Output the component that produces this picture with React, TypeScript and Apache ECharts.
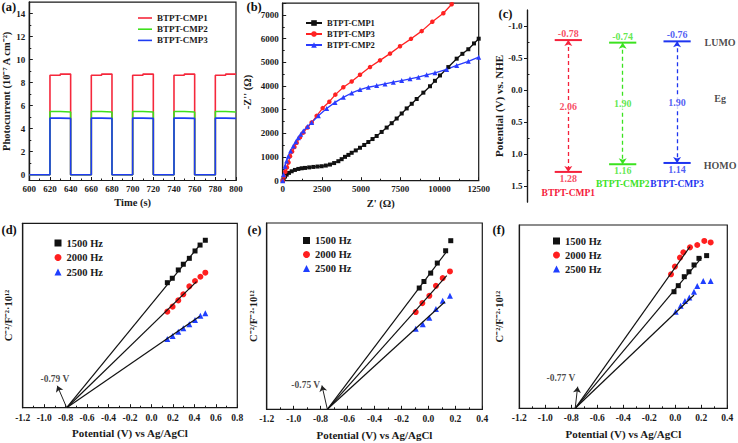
import React, { useEffect, useRef } from 'react';
import * as echarts from 'echarts';

const FONT = '"Liberation Serif", "Times New Roman", serif';
const AX = '#1a1a1a';

// ---------- (a) photocurrent ----------
const compoundsA = ['BTPT-CMP1', 'BTPT-CMP2', 'BTPT-CMP3'];
const lightOnStarts = [620, 660, 700, 740, 780];
const lightOnLength = 20;
const photoFirstHalf = [8.65, 5.5, 4.92];
const photoSecondHalf = [8.75, 5.45, 4.9];
const photoColors = ['#f5283c', '#3ee01c', '#1e3cf2'];
const photoLabelValues = [0, 2, 4, 6, 8, 10, 12, 14];
const photoMinorValues = [1, 3, 5, 7, 9, 11, 13];

// ---------- (b) Nyquist ----------
const eisCMP1 = [[0, 0], [60, 95], [150, 175], [253, 256], [400, 330], [572, 398], [780, 455], [997, 497], [1210, 525], [1422, 540], [1690, 562], [1954, 582], [2220, 598], [2485, 611], [2750, 640], [3017, 682], [3280, 745], [3548, 824], [3760, 910], [3974, 1008], [4190, 1090], [4399, 1179], [4660, 1280], [4930, 1392], [5200, 1510], [5462, 1634], [5730, 1760], [5993, 1889], [6310, 2060], [6631, 2244], [6950, 2430], [7269, 2627], [7590, 2840], [7907, 3054], [8230, 3250], [8545, 3451], [8970, 3720], [9395, 3991], [9710, 4220], [10033, 4446], [10564, 4801], [11096, 5156], [11460, 5360], [11839, 5554], [12200, 5800], [12500, 6000]];
const eisCMP3 = [[0, 0], [80, 180], [170, 380], [270, 560], [370, 770], [466, 1036], [600, 1230], [750, 1420], [891, 1605], [1100, 1830], [1316, 2031], [1580, 2250], [1848, 2457], [2166, 2741], [2549, 3068], [2974, 3338], [3357, 3636], [3867, 3949], [4399, 4190], [4930, 4474], [5568, 4801], [6206, 5085], [6844, 5369], [7481, 5682], [8183, 5994], [8863, 6320], [9543, 6718], [10245, 7073], [10777, 7457], [11000, 7640]];
const eisCMP2 = [[0, 0], [50, 250], [147, 611], [250, 830], [359, 1036], [500, 1250], [678, 1463], [840, 1650], [997, 1818], [1150, 1960], [1316, 2102], [1580, 2290], [1848, 2457], [2273, 2741], [2804, 3054], [3336, 3309], [3867, 3522], [4399, 3707], [4930, 3849], [5462, 3949], [5993, 4020], [6525, 4091], [7056, 4162], [7588, 4233], [8119, 4304], [8651, 4375], [9182, 4474], [9714, 4559], [10458, 4701], [11096, 4872], [11839, 5042], [12500, 5220]];

// ---------- (c) band positions ----------
const compoundsC = ['BTPT-CMP1', 'BTPT-CMP2', 'BTPT-CMP3'];
const lumo = [-0.78, -0.74, -0.76];
const homo = [1.28, 1.16, 1.14];
const bandColors = ['#f5213b', '#3be21f', '#1f35f0'];
const potentialLabelValues = [-1.0, -0.5, 0.0, 0.5, 1.0, 1.5];
const potentialMinorValues = [-0.75, -0.25, 0.25, 0.75, 1.25];

// ---------- (d)(e)(f) Mott-Schottky ----------
const freqs = ['1500 Hz', '2000 Hz', '2500 Hz'];
const flatBand = [-0.79, -0.75, -0.77];
const d1500 = [[0.148, 67.8], [0.194, 70.2], [0.25, 74.7], [0.297, 77.8], [0.353, 81.0], [0.406, 85.0], [0.453, 88.2], [0.502, 90.8]];
const d2000 = [[0.148, 52.1], [0.197, 54.8], [0.25, 58.2], [0.297, 61.5], [0.353, 65.8], [0.406, 68.7], [0.456, 71.0], [0.502, 73.2]];
const d2500 = [[0.148, 37.3], [0.197, 38.9], [0.25, 41.2], [0.297, 43.1], [0.353, 45.2], [0.406, 47.6], [0.456, 49.9], [0.502, 51.2]];
const dFitEnds = [[0.44, 87.5], [0.42, 68.4], [0.45, 49.6]];
const e1500 = [[-0.068, 65.1], [-0.033, 68.6], [0.017, 73.1], [0.066, 78.5], [0.128, 85.1], [0.166, 90.5]];
const e2000 = [[-0.094, 52.2], [-0.045, 57.0], [0.007, 60.9], [0.056, 66.3], [0.106, 70.4], [0.16, 74.0]];
const e2500 = [[-0.094, 43.2], [-0.042, 45.7], [0.007, 49.2], [0.056, 53.9], [0.106, 58.2], [0.16, 60.9]];
const eFitEnds = [[0.128, 84.0], [0.136, 71.8], [0.123, 57.7]];
const f1500 = [[-0.01, 63.6], [0.023, 66.9], [0.069, 71.8], [0.105, 74.5], [0.144, 78.2], [0.182, 81.8], [0.241, 83.3]];
const f2000 = [[-0.033, 73.1], [-0.003, 77.3], [0.036, 82.2], [0.062, 85.1], [0.113, 87.8], [0.169, 89.1], [0.223, 91.3], [0.272, 90.5]];
const f2500 = [[0.003, 52.7], [0.041, 56.0], [0.074, 58.5], [0.108, 60.4], [0.144, 63.6], [0.169, 66.7], [0.215, 69.5], [0.272, 69.5]];
const fFitEnds = [[0.203, 82.2], [0.113, 88.2], [0.144, 61.8]];
const msColors = ['#111111', '#ff1f1f', '#1f3fff'];
const msSymbols = ['rect', 'circle', 'triangle'];
const msSymbolSizes = [5, 6, 6];

const txt = (size: number, extra: any = {}) => ({ fontFamily: FONT, fontWeight: 'bold', fontSize: size, color: AX, ...extra });

function stepData(a: number, b: number) {
  const pts: number[][] = [[600, 0]];
  lightOnStarts.forEach((s) => {
    const e = s + lightOnLength;
    const m = s + lightOnLength / 2;
    pts.push([s, 0], [s, a], [m, a], [m, b], [e, b]);
    if (e < 800) pts.push([e, 0]);
  });
  return pts;
}

function baseAxis(gridIndex: number, extra: any = {}) {
  return {
    gridIndex,
    type: 'value',
    axisLine: { show: true, onZero: false, lineStyle: { color: AX, width: 1.2 } },
    axisTick: { show: true, inside: true, length: 3.5, lineStyle: { color: AX, width: 1 } },
    minorTick: { show: false },
    axisLabel: txt(9, { margin: 4, formatter: (v: number) => String(v) }),
    splitLine: { show: false },
    nameTextStyle: txt(10.5),
    ...extra,
  };
}

export default function App() {
  const ref = useRef<HTMLDivElement>(null);
  useEffect(() => {
    if (!ref.current) return;
    const chart = echarts.init(ref.current, null, { renderer: 'svg' });

    const gridBox = { show: true, borderColor: AX, borderWidth: 1.2, backgroundColor: 'transparent' };
    const grids = [
      { left: 29.3, top: 2.2, width: 206.7, height: 178.3, ...gridBox },
      { left: 282.7, top: 3.2, width: 196, height: 177.5, ...gridBox },
      { left: 527.5, top: 10, width: 206.7, height: 192, show: true, borderWidth: 0, borderColor: 'rgba(0,0,0,0)', backgroundColor: 'transparent' },
      { left: 22.7, top: 223.3, width: 214.6, height: 184.4, ...gridBox },
      { left: 266.7, top: 223, width: 215.6, height: 186.3, ...gridBox },
      { left: 519.3, top: 225, width: 208, height: 183.3, ...gridBox },
    ];

    const msX = (gi: number, max: number) => baseAxis(gi, {
      min: -1.2, max, interval: 0.2,
      minorTick: { show: true, splitNumber: 2, length: 2, lineStyle: { color: AX } },
      axisLabel: txt(9.5, { margin: 5, formatter: (v: number) => v.toFixed(1) }),
      name: 'Potential (V) vs Ag/AgCl', nameLocation: 'middle', nameGap: 20, nameTextStyle: txt(11),
    });
    const msY = (gi: number, gap: number) => baseAxis(gi, {
      min: 0, max: 100, axisTick: { show: false }, axisLabel: { show: false },
      name: 'C\u207B\u00B2/F\u207B\u00B2\u00B710\u00B9\u00B2', nameLocation: 'middle', nameGap: gap, nameTextStyle: txt(10.5),
    });

    // panel (c): horizontal layout axis 0..3.8, compounds at 0.75, 1.75, 2.75
    const cMin = 0;
    const cMax = 3.8;
    const centers = compoundsC.map((_, i) => 0.75 + i);
    const sideX = 3.54;
    const halfW = 0.25;
    const nameRich: any = {};
    compoundsC.forEach((_, i) => {
      nameRich['c' + i] = txt(9.5, { color: bandColors[i], padding: [i === 0 ? 9 : 0, 0, 0, 0] });
    });

    const xAxis = [
      baseAxis(0, {
        min: 600, max: 800, interval: 20,
        minorTick: { show: true, splitNumber: 2, length: 2, lineStyle: { color: AX } },
        name: 'Time (s)', nameLocation: 'middle', nameGap: 16, nameTextStyle: txt(10.5),
      }),
      baseAxis(1, {
        min: 0, max: 12500, interval: 2500,
        minorTick: { show: true, splitNumber: 2, length: 2, lineStyle: { color: AX } },
        name: "Z' (\u03A9)", nameLocation: 'middle', nameGap: 17, nameTextStyle: txt(10.5),
      }),
      baseAxis(2, {
        min: cMin, max: cMax,
        axisLine: { show: true, onZero: false, lineStyle: { color: 'rgba(0,0,0,0)', width: 1 } },
        axisTick: { show: false },
        axisLabel: txt(9.5, {
          margin: -23.5,
          customValues: centers,
          formatter: (v: number) => {
            const i = centers.findIndex((c) => Math.abs(c - v) < 1e-6);
            return i < 0 ? '' : `{c${i}|${compoundsC[i]}}`;
          },
          rich: nameRich,
        }),
      }),
      msX(3, 0.8),
      msX(4, 0.4),
      msX(5, 0.4),
    ];

    const yAxis = [
      baseAxis(0, {
        min: -0.5, max: 15,
        axisLabel: txt(9, { margin: 4, customValues: photoLabelValues, formatter: (v: number) => String(v) }),
        axisTick: { show: true, inside: true, length: 3.5, customValues: photoLabelValues, lineStyle: { color: AX } },
        name: 'Photocurrent (10\u207B\u2077 A cm\u207B\u00B2)', nameLocation: 'middle', nameGap: 15, nameTextStyle: txt(10.5),
      }),
      baseAxis(0, {
        min: -0.5, max: 15, position: 'left',
        axisLine: { show: true, onZero: false, lineStyle: { color: AX, width: 1.2 } },
        axisLabel: { show: false },
        axisTick: { show: true, inside: true, length: 2, customValues: photoMinorValues, lineStyle: { color: AX } },
      }),
      baseAxis(1, {
        min: 0, max: 7500, interval: 1000,
        minorTick: { show: true, splitNumber: 2, length: 2, lineStyle: { color: AX } },
        axisLabel: txt(9, { margin: 4, showMaxLabel: false, formatter: (v: number) => String(v) }),
        name: "-Z'' (\u03A9)", nameLocation: 'middle', nameGap: 30, nameTextStyle: txt(10.5),
      }),
      baseAxis(2, {
        min: -1.25, max: 1.75, inverse: true,
        axisLabel: txt(9, { margin: 5, customValues: potentialLabelValues, formatter: (v: number) => v.toFixed(1) }),
        axisTick: { show: true, inside: false, length: 3.5, customValues: potentialLabelValues, lineStyle: { color: AX } },
        name: 'Potential (V) vs. NHE', nameLocation: 'middle', nameGap: 20, nameTextStyle: txt(11),
      }),
      baseAxis(2, {
        min: -1.25, max: 1.75, inverse: true, position: 'left',
        axisLine: { show: true, onZero: false, lineStyle: { color: AX, width: 1.2 } },
        axisLabel: { show: false },
        axisTick: { show: true, inside: true, length: 2, customValues: potentialMinorValues, lineStyle: { color: AX } },
      }),
      msY(3, 9),
      msY(4, 8),
      msY(5, 14),
    ];

    const series: any[] = [];

    // (a)
    compoundsA.forEach((n, i) => {
      series.push({
        name: 'a:' + n, type: 'line', xAxisIndex: 0, yAxisIndex: 0,
        data: stepData(photoFirstHalf[i], photoSecondHalf[i]),
        symbol: 'none', color: photoColors[i], lineStyle: { width: 1.6, color: photoColors[i] },
      });
    });

    // (b)
    const eisSets = [
      { n: 'BTPT-CMP1', d: eisCMP1, c: '#111111', s: 'rect', z: 4 },
      { n: 'BTPT-CMP3', d: eisCMP3, c: '#ff2222', s: 'circle', z: 4.5 },
      { n: 'BTPT-CMP2', d: eisCMP2, c: '#2a3cff', s: 'triangle', z: 5 },
    ];
    eisSets.forEach((e) => {
      series.push({
        name: 'b:' + e.n, type: 'line', xAxisIndex: 1, yAxisIndex: 2, data: e.d,
        symbol: e.s, symbolSize: e.z, showSymbol: true, color: e.c,
        lineStyle: { width: 1.3, color: e.c }, itemStyle: { color: e.c },
      });
    });

    // (c)
    compoundsC.forEach((n, i) => {
      const c = bandColors[i];
      series.push({
        name: 'c:lumo' + i, type: 'line', xAxisIndex: 2, yAxisIndex: 3,
        data: [[centers[i] - halfW, lumo[i]], [centers[i] + halfW, lumo[i]]],
        symbol: 'none', lineStyle: { color: c, width: 2 },
        markLine: {
          silent: true, symbol: ['arrow', 'arrow'], symbolSize: 6,
          label: { show: false },
          lineStyle: { color: c, width: 1.3, type: [4, 3] },
          data: [[{ coord: [centers[i], lumo[i]] }, { coord: [centers[i], homo[i]] }]],
        },
      });
      series.push({
        name: 'c:homo' + i, type: 'line', xAxisIndex: 2, yAxisIndex: 3,
        data: [[centers[i] - halfW, homo[i]], [centers[i] + halfW, homo[i]]],
        symbol: 'none', lineStyle: { color: c, width: 2 },
      });
    });
    const cLabels: any[] = [];
    compoundsC.forEach((n, i) => {
      const c = bandColors[i];
      cLabels.push({ value: [centers[i], lumo[i]], label: { position: 'top', distance: 1, formatter: lumo[i].toFixed(2), ...txt(10, { color: c }) } });
      cLabels.push({ value: [centers[i], homo[i]], label: { position: 'bottom', distance: 1, formatter: homo[i].toFixed(2), ...txt(10, { color: c }) } });
      cLabels.push({
        value: [centers[i], (lumo[i] + homo[i]) / 2],
        label: { position: 'inside', formatter: (homo[i] - lumo[i]).toFixed(2), backgroundColor: '#fff', padding: [1, 0], ...txt(10, { color: c }) },
      });
    });
    cLabels.push({ value: [sideX, -0.75], label: { position: 'inside', formatter: 'LUMO', ...txt(10) } });
    cLabels.push({ value: [sideX, 0.14], label: { position: 'inside', formatter: 'Eg', ...txt(10) } });
    cLabels.push({ value: [sideX, 1.18], label: { position: 'inside', formatter: 'HOMO', ...txt(10) } });
    // invisible extent anchors so the layout axis spans its full range
    cLabels.push({ value: [cMin, 1.75], label: { show: false } });
    cLabels.push({ value: [cMax, 1.75], label: { show: false } });
    series.push({
      name: 'c:labels', type: 'scatter', xAxisIndex: 2, yAxisIndex: 3, symbolSize: 1,
      itemStyle: { color: 'rgba(0,0,0,0)' }, label: { show: true }, data: cLabels, z: 5,
    });

    // (d)(e)(f)
    const msPanels = [
      { p: 'd', sets: [d1500, d2000, d2500], fits: dFitEnds, xi: 3, yi: 5, vfb: flatBand[0], text: [-0.90, 15.6], head: [-0.878, 11.9] },
      { p: 'e', sets: [e1500, e2000, e2500], fits: eFitEnds, xi: 4, yi: 6, vfb: flatBand[1], text: [-0.91, 13.0], head: [-0.79, 12.8] },
      { p: 'f', sets: [f1500, f2000, f2500], fits: fFitEnds, xi: 5, yi: 7, vfb: flatBand[2], text: [-0.88, 16.4], head: [-0.751, 11.8] },
    ];
    msPanels.forEach((m) => {
      m.sets.forEach((d, k) => {
        series.push({
          name: m.p + ':' + freqs[k], type: 'scatter', xAxisIndex: m.xi, yAxisIndex: m.yi, data: d,
          symbol: msSymbols[k], symbolSize: msSymbolSizes[k], itemStyle: { color: msColors[k], opacity: 1 }, z: 3,
        });
      });
      m.fits.forEach((f, k) => {
        const s: any = {
          name: m.p + ':fit' + k, type: 'line', xAxisIndex: m.xi, yAxisIndex: m.yi,
          data: [[m.vfb, 0], f], symbol: 'none', lineStyle: { color: '#111', width: 1.2 }, z: 4,
        };
        if (k === 0) {
          s.markLine = {
            silent: true, symbol: ['none', 'arrow'], symbolSize: 6, label: { show: false },
            lineStyle: { color: '#222', width: 1, type: 'solid' },
            data: [[{ coord: [m.vfb, 0] }, { coord: m.head }]],
          };
        }
        series.push(s);
      });
      series.push({
        name: m.p + ':note', type: 'scatter', xAxisIndex: m.xi, yAxisIndex: m.yi, symbolSize: 1,
        itemStyle: { color: 'rgba(0,0,0,0)' },
        label: { show: true, position: 'inside', formatter: m.vfb.toFixed(2) + ' V', ...txt(9.5) },
        data: [m.text],
      });
    });

    const legendBase = { orient: 'vertical', padding: 0, inactiveColor: '#ccc', selectedMode: false };
    const legend = [
      { ...legendBase, left: 138, top: 13.5, itemWidth: 14, itemHeight: 9, itemGap: 2.2, icon: 'path://M0,4 L14,4 L14,5.6 L0,5.6 Z',
        data: compoundsA.map((n) => 'a:' + n), formatter: (n: string) => n.split(':')[1], textStyle: txt(9) },
      { ...legendBase, left: 305, top: 18.5, itemWidth: 16, itemHeight: 7, itemGap: 2,
        data: eisSets.map((e) => 'b:' + e.n), formatter: (n: string) => n.split(':')[1], textStyle: txt(8.5) },
      { ...legendBase, left: 54.5, top: 237.5, itemWidth: 7, itemHeight: 7, itemGap: 3.5,
        data: freqs.map((f) => 'd:' + f), formatter: (n: string) => n.split(':')[1], textStyle: txt(10.5) },
      { ...legendBase, left: 303, top: 235, itemWidth: 7, itemHeight: 7, itemGap: 3,
        data: freqs.map((f) => 'e:' + f), formatter: (n: string) => n.split(':')[1], textStyle: txt(10.5) },
      { ...legendBase, left: 553, top: 235.5, itemWidth: 7, itemHeight: 7, itemGap: 3,
        data: freqs.map((f) => 'f:' + f), formatter: (n: string) => n.split(':')[1], textStyle: txt(10.5) },
    ];

    const panelLabel = (t: string, x: number, y: number) => ({
      type: 'text', x, y, style: { text: t, font: `bold 12.5px ${FONT}`, fill: '#111', verticalAlign: 'middle' },
    });

    chart.setOption({
      animation: false,
      backgroundColor: '#fff',
      grid: grids,
      xAxis,
      yAxis,
      legend,
      series,
      graphic: [
        panelLabel('(a)', 1.5, 7),
        panelLabel('(b)', 246.5, 7),
        panelLabel('(c)', 498.5, 14),
        panelLabel('(d)', 1.5, 230),
        panelLabel('(e)', 247.5, 230),
        panelLabel('(f)', 492.5, 230),
      ],
    });
    return () => chart.dispose();
  }, []);
  return <div ref={ref} style={{ position: 'absolute', left: 0, top: 0, width: 738, height: 443 }} />;
}
